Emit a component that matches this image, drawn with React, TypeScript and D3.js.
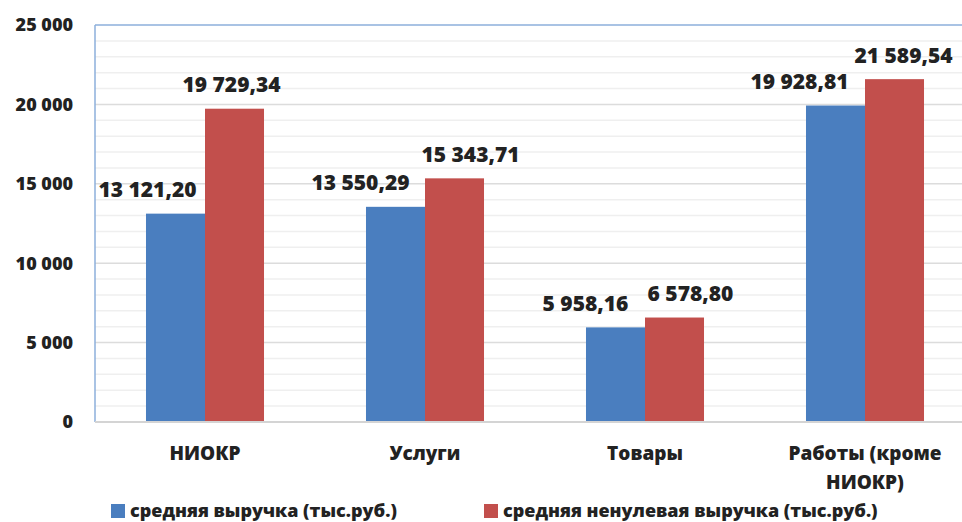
import React, { useEffect, useRef } from "react";
import * as d3 from "d3";

const categories = ["НИОКР", "Услуги", "Товары", "Работы (кроме НИОКР)"];
const categoryLines = [["НИОКР"], ["Услуги"], ["Товары"], ["Работы (кроме", "НИОКР)"]];
const seriesNames = ["средняя выручка (тыс.руб.)", "средняя ненулевая выручка (тыс.руб.)"];
const avgRevenue = [13121.2, 13550.29, 5958.16, 19928.81];
const avgNonZeroRevenue = [19729.34, 15343.71, 6578.8, 21589.54];
const yTicks = [0, 5000, 10000, 15000, 20000, 25000];
// horizontal nudges of the data labels (moved by hand in the original)
const labelShift = [[-28, -3], [-35, 16], [-30, 16], [-36, 9]];

const colors = ["#4A7EBF", "#C24F4C"];
const font = "'Open Sans', 'Noto Sans', sans-serif";

const fmtNum = (v: number, digits: number) => {
  const s = d3.format(`,.${digits}f`)(v);
  return s.replace(/,/g, " ").replace(".", ",");
};

export default function App() {
  const ref = useRef<SVGSVGElement>(null);
  const width = 962;
  const height = 522;
  const margin = { top: 25, left: 95, bottom: 100 };
  const plotBottom = height - margin.bottom;

  useEffect(() => {
    const svg = d3.select(ref.current);
    svg.selectAll("*").remove();

    const x0 = d3.scaleBand().domain(categories).range([margin.left, margin.left + 880]);
    const x1 = d3
      .scaleBand()
      .domain(["0", "1"])
      .range([0, x0.bandwidth()])
      .paddingInner(0)
      .paddingOuter(0.864);
    const y = d3.scaleLinear().domain([0, 25000]).range([plotBottom, margin.top]);

    const g = svg.append("g");

    // minor gridlines
    g.selectAll(".minor")
      .data(d3.range(1000, 25000, 1000).filter((v) => v % 5000 !== 0))
      .enter()
      .append("line")
      .attr("x1", margin.left)
      .attr("x2", width)
      .attr("y1", (d) => y(d))
      .attr("y2", (d) => y(d))
      .attr("stroke", "#efefef")
      .attr("stroke-width", 1.5);

    // major gridlines
    g.selectAll(".major")
      .data(yTicks.filter((v) => v > 0 && v < 25000))
      .enter()
      .append("line")
      .attr("x1", margin.left)
      .attr("x2", width)
      .attr("y1", (d) => y(d))
      .attr("y2", (d) => y(d))
      .attr("stroke", "#dcdcdc")
      .attr("stroke-width", 1.5);

    // plot border top + left axis
    g.append("line")
      .attr("x1", margin.left)
      .attr("x2", width)
      .attr("y1", y(25000))
      .attr("y2", y(25000))
      .attr("stroke", "#8DAFDB")
      .attr("stroke-width", 1.5);
    g.append("line")
      .attr("x1", margin.left)
      .attr("x2", margin.left)
      .attr("y1", y(25000))
      .attr("y2", plotBottom)
      .attr("stroke", "#8DAFDB")
      .attr("stroke-width", 1.5);

    const series = [avgRevenue, avgNonZeroRevenue];
    series.forEach((vals, si) => {
      g.selectAll(`.bar${si}`)
        .data(vals)
        .enter()
        .append("rect")
        .attr("x", (_, i) => (x0(categories[i]) as number) + (x1(String(si)) as number))
        .attr("y", (d) => y(d))
        .attr("width", x1.bandwidth())
        .attr("height", (d) => plotBottom - y(d))
        .attr("fill", colors[si]);
    });

    // bottom axis line
    g.append("line")
      .attr("x1", margin.left)
      .attr("x2", width)
      .attr("y1", plotBottom)
      .attr("y2", plotBottom)
      .attr("stroke", "#d4d4d4")
      .attr("stroke-width", 2);

    // data labels
    series.forEach((vals, si) => {
      g.selectAll(`.lbl${si}`)
        .data(vals)
        .enter()
        .append("text")
        .attr(
          "x",
          (_, i) =>
            (x0(categories[i]) as number) + (x1(String(si)) as number) + x1.bandwidth() / 2 + labelShift[i][si]
        )
        .attr("y", (d) => y(d) - 24)
        .attr("dy", "0.35em")
        .attr("text-anchor", "middle")
        .attr("font-family", font)
        .attr("font-weight", 800)
        .attr("font-size", 21)
        .attr("fill", "#222")
        .text((d) => fmtNum(d, 2));
    });

    // y tick labels
    g.selectAll(".ytick")
      .data(yTicks)
      .enter()
      .append("text")
      .attr("x", 73)
      .attr("y", (d) => y(d))
      .attr("dy", "0.35em")
      .attr("text-anchor", "end")
      .attr("font-family", font)
      .attr("font-weight", 800)
      .attr("font-size", 18)
      .attr("fill", "#222")
      .text((d) => fmtNum(d, 0));

    // category labels
    categories.forEach((c, i) => {
      const cx = (x0(c) as number) + x0.bandwidth() / 2;
      const t = g
        .append("text")
        .attr("x", cx)
        .attr("y", 453)
        .attr("text-anchor", "middle")
        .attr("font-family", font)
        .attr("font-weight", 800)
        .attr("font-size", 19)
        .attr("fill", "#222");
      categoryLines[i].forEach((line, li) => {
        t.append("tspan")
          .attr("x", cx)
          .attr("dy", li === 0 ? "0.35em" : 29)
          .text(line);
      });
    });

    // legend
    const legendX = [111, 484];
    seriesNames.forEach((name, si) => {
      g.append("rect")
        .attr("x", legendX[si])
        .attr("y", 504)
        .attr("width", 14)
        .attr("height", 14)
        .attr("fill", colors[si]);
      g.append("text")
        .attr("x", legendX[si] + 19)
        .attr("y", 511)
        .attr("dy", "0.35em")
        .attr("font-family", font)
        .attr("font-weight", 800)
        .attr("font-size", 18)
        .attr("fill", "#222")
        .text(name);
    });
  });

  return (
    <svg
      ref={ref}
      width={width}
      height={height}
      style={{ position: "absolute", left: 0, top: 0, background: "#fff" }}
    />
  );
}
